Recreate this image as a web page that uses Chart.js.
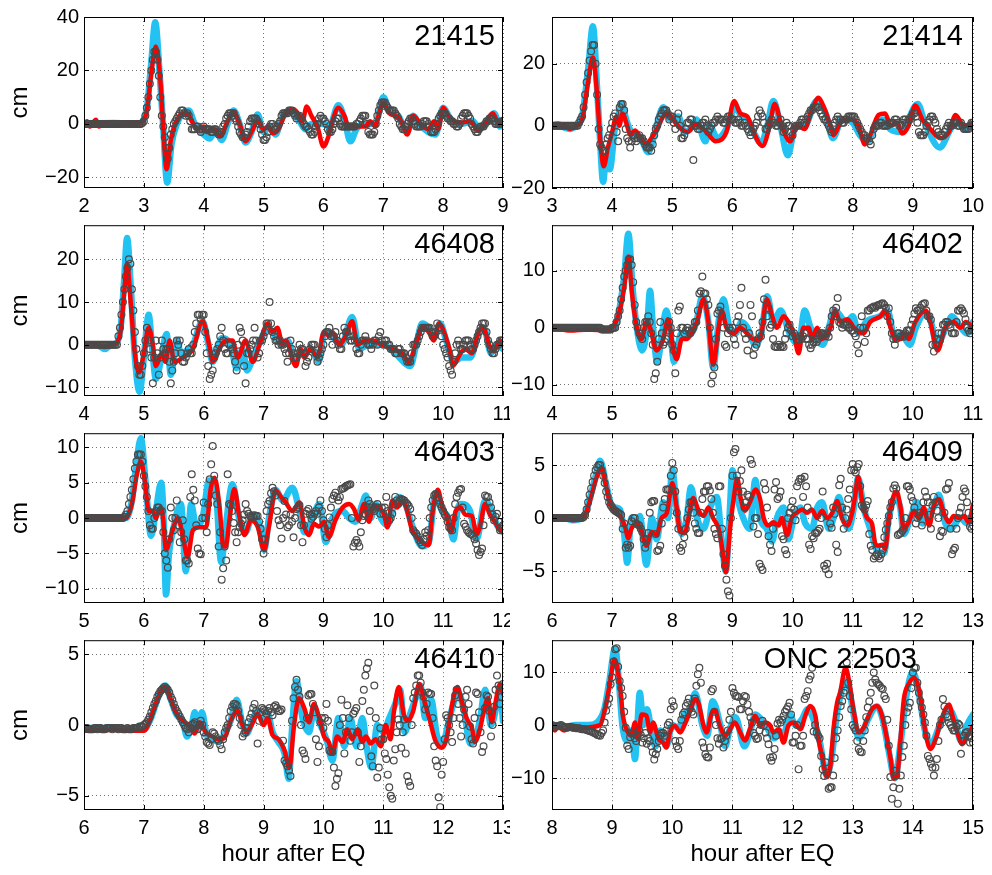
<!DOCTYPE html>
<html>
<head>
<meta charset="utf-8">
<script src="https://cdn.jsdelivr.net/npm/chart.js@4.4.0/dist/chart.umd.min.js"></script>
<style>
  body { margin: 0; background: #fff; width: 992px; height: 875px; position: relative; overflow: hidden; }
  canvas { position: absolute; }
</style>
</head>
<body>
<canvas id="c0"></canvas><canvas id="c1"></canvas>
<canvas id="c2"></canvas><canvas id="c3"></canvas>
<canvas id="c4"></canvas><canvas id="c5"></canvas>
<canvas id="c6"></canvas><canvas id="c7"></canvas>
<script>
// observed series: obsXXX sampled every obsStep hours from the panel's first hour,
// obsXXXHalf are the samples in between (first hour + obsStep/2 + k*obsStep)
const obsStep = 0.05;

// ---- 21415 ----
const red21415 = [[2,0],[2.05,1],[2.1,-1],[2.2,1.5],[2.25,-1],[2.35,0],[2.5,-0.5],[2.8,0],[2.95,0.5],[3.05,5],[3.12,18],[3.2,29],[3.27,18],[3.32,0],[3.38,-17],[3.45,-6],[3.52,0],[3.6,3],[3.72,4],[3.8,1],[3.9,-2],[4,-1],[4.05,-3],[4.15,-1.5],[4.28,-4.5],[4.4,1],[4.5,4.5],[4.6,0],[4.7,-6.5],[4.8,-3],[4.9,1],[5,-2],[5.08,-1],[5.15,-3.5],[5.25,-2],[5.35,3],[5.5,5.5],[5.6,3],[5.65,1],[5.72,6.5],[5.8,3],[5.9,-1],[6,-8.5],[6.08,-5],[6.15,1],[6.25,6],[6.35,3],[6.42,-1],[6.6,-1],[6.7,-1],[6.78,1],[6.87,-1],[6.92,3],[7,8],[7.1,4],[7.2,3],[7.3,1],[7.4,-4],[7.5,3],[7.62,0],[7.75,-2],[7.85,1],[7.92,-2],[8,6],[8.12,2],[8.3,0.5],[8.45,1],[8.58,-2.5],[8.7,0],[8.83,4],[8.93,0],[9,2]];
const cyan21415 = [[2,0],[2.5,0.3],[2.9,0],[3.05,6],[3.12,22],[3.19,38],[3.26,20],[3.32,0],[3.39,-22],[3.46,-8],[3.55,0],[3.65,4],[3.75,5],[3.85,0],[4,-4],[4.1,-5.5],[4.2,-2],[4.3,-6],[4.4,0],[4.5,5],[4.6,0],[4.7,-7],[4.8,-3],[4.9,3.5],[5,-3],[5.1,-1],[5.2,-4],[5.3,2],[5.45,5],[5.6,1],[5.7,-2],[5.8,0],[6,0],[6.1,-1],[6.25,7],[6.35,2],[6.45,-6.5],[6.55,-2],[6.65,0],[6.8,0],[6.9,2],[7,10],[7.1,5],[7.25,3],[7.4,-3],[7.5,3],[7.6,0],[7.75,-3],[7.87,-4],[8,6],[8.12,2],[8.3,0],[8.5,1],[8.6,-2],[8.7,0],[8.85,4],[8.95,-1],[9,0]];
const obs21415 = [
  0,0,0,0,0,0,0,0,0,0,
  0,0,0,0,0,0,0,0,0,0,
  1,6,15,24,27,18,3,-5,-13,-4,
  0,2,4,5,3,3,-2,-2,-1,-3,
  -1,-2,-2,-3,-2,-4,-3,0,3,4,
  4,1,-3,-5,-4,-1,2,2,1,-2,
  -6,-5,-1,0,-2,0,3,4,4,5,
  4,2,3,1,-1,-2,-4,-3,0,3,
  2,0,-3,-2,1,2,-1,-1,-1,-1,
  -1,0,1,3,3,-3,-4,-3,3,7,
  8,7,5,5,4,2,-1,-2,0,2,
  1,-1,-1,0,1,0,-3,-3,0,3,
  4,3,2,1,0,-1,2,4,4,2,
  -1,-3,-2,-1,0,1,2,1,0,0,
  1];
const obs21415Half = [
  0,0,0,0,0,0,0,0,0,0,
  0,0,0,0,0,0,0,0,0,0.3,
  3,10,20,27,24,10,-1,-9,-9,-2,
  1,3,5,4,4,1,-2,-1,-2,-2,
  -2,-2,-3,-2,-3,-4,-1,2,4,3,
  2,-1,-4,-5,-3,1,2,2,0,-4,
  -6,-3,0,-1,-1,1,4,4,5,5,
  3,3,2,0,-1,-3,-4,-1,2,2,
  1,-2,-3,0,2,0,-1,-1,-1,-1,
  -1,0,2,3,0,-4,-4,0,5,8,
  8,6,5,5,3,0,-2,-1,1,2,
  0,-1,-1,1,1,-1,-3,-2,2,4,
  4,2,1,0,-1,0,3,4,3,0,
  -2,-3,-1,-1,1,2,2,0,0,1];

// ---- 21414 ----
const red21414 = [[3,0],[3.1,-0.5],[3.2,0],[3.3,-1],[3.4,0],[3.5,2],[3.6,14],[3.68,22],[3.75,10],[3.8,-4],[3.86,-13],[3.93,-7],[4,-2],[4.07,3],[4.12,0],[4.17,4],[4.25,0],[4.3,-3],[4.38,-1.5],[4.45,-3],[4.57,-6],[4.65,-4],[4.75,-1],[4.85,3],[4.93,4],[5.05,1],[5.15,-1],[5.25,-2],[5.4,0.5],[5.57,-2],[5.72,-5],[5.9,-2],[6.03,8],[6.13,4],[6.25,3],[6.35,-2],[6.5,-6.5],[6.62,0],[6.7,7],[6.82,0],[6.96,-5],[7.07,0],[7.2,-1],[7.32,5],[7.43,9],[7.52,6],[7.63,0],[7.68,-3],[7.8,1],[7.96,2],[8.1,0],[8.2,-6],[8.29,-3],[8.43,3.5],[8.54,4],[8.63,0],[8.74,1],[8.82,-2.5],[8.93,0],[9.04,6.5],[9.16,2],[9.29,-1],[9.46,-4],[9.6,-2],[9.71,3.5],[9.85,0],[10,1]];
const cyan21414 = [[3,0],[3.1,0.5],[3.2,-0.5],[3.3,-1],[3.4,0],[3.5,3],[3.6,18],[3.68,32],[3.75,12],[3.8,-5],[3.85,-18],[3.9,-10],[3.96,-14],[4.05,0],[4.1,3],[4.15,7],[4.25,1],[4.35,-3],[4.47,-4],[4.6,-8.5],[4.7,-3],[4.85,6],[4.97,2],[5.1,3],[5.2,-2],[5.3,-1],[5.4,2],[5.55,-5],[5.62,0],[5.75,-4],[5.9,-1],[6.05,6],[6.15,3],[6.25,2],[6.35,-2],[6.48,-5.5],[6.58,0],[6.68,8],[6.8,0],[6.92,-9.5],[7.05,0],[7.2,0],[7.4,8],[7.55,4],[7.67,-4],[7.82,2],[8,1],[8.12,-3],[8.25,-5],[8.4,1],[8.5,2],[8.62,-1],[8.8,-2],[9.08,7],[9.2,1],[9.45,-7],[9.6,-2],[9.72,2],[9.85,-1],[10,0]];
const obs21414 = [
  0,0,0,0,0,0,0,0,0,1,
  3,10,17,24,26,10,-6,-8,-6,-3,
  1,4,-5,7,5,-4,-7,-3,-5,-3,
  -4,-6,-7,-8,-3,0,3,5,5,2,
  3,-1,4,-4,-3,1,2,-11,0,-1,
  1,2,-2,0,1,3,2,1,2,3,
  2,1,2,0,1,-1,-3,-1,1,5,
  3,-1,0,2,1,0,2,-2,1,0,
  -3,0,0,2,1,3,5,6,6,5,
  3,2,0,-2,1,3,2,1,2,3,
  3,2,0,-2,-3,-4,-6,-1,0,1,
  0,0,1,1,2,1,0,2,1,2,
  4,3,-2,-3,-2,1,3,2,-1,-3,
  -3,-1,1,0,1,0,1,-1,-1,0,
  1];
const obs21414Half = [
  0,0,0,0,0,0,0,0,0,2,
  6,14,21,26,20,-1,-7,-8,-4,-1,
  3,-2,6,7,-1,-5,-5,-4,-4,-4,
  -5,-7,-7,-6,-1,2,4,5,4,3,
  1,2,0,-4,-1,1,2,0,-1,0,
  1,0,-1,1,2,2,2,1,3,2,
  2,1,1,0,0,-2,-2,0,3,4,
  1,-1,1,1,0,1,0,-1,0,-2,
  -1,0,1,2,2,4,5,6,6,4,
  2,1,-1,0,2,2,1,2,3,3,
  3,1,-1,-3,-4,-5,-3,0,0,1,
  0,0,1,1,2,0,1,2,2,3,
  4,1,-3,-3,0,2,3,1,-2,-3,
  -2,0,0,1,1,0,0,-1,-1,1];

// ---- 46408 ----
const red46408 = [[4,0],[4.2,0],[4.35,-0.5],[4.45,0],[4.55,0.5],[4.62,4],[4.67,12],[4.72,19],[4.78,10],[4.85,-2],[4.92,-6.5],[5,-2],[5.08,4],[5.15,0],[5.2,-5],[5.3,-2],[5.36,-4],[5.43,1],[5.51,-4],[5.65,-3],[5.82,-1],[5.98,5.5],[6.09,0],[6.15,-4],[6.26,-1],[6.37,1],[6.48,1],[6.57,-3],[6.7,1],[6.82,-4],[6.93,0],[7.07,5],[7.15,3],[7.23,4],[7.32,0],[7.37,1],[7.54,-5],[7.62,-1],[7.68,-3],[7.79,-1],[7.9,-3],[8.01,3],[8.1,2],[8.15,3],[8.26,0],[8.37,2],[8.48,5.5],[8.57,0],[8.68,1],[8.82,1],[8.98,0],[9.15,-1],[9.32,-2],[9.43,-4],[9.54,0],[9.65,4],[9.76,3],[9.84,1],[9.93,5],[10.04,2],[10.12,-2],[10.16,-5],[10.29,-2],[10.37,-1],[10.48,-2],[10.59,3],[10.66,4.3],[10.78,-0.5],[10.85,-1.5],[10.95,1],[11,0]];
const cyan46408 = [[4,0],[4.2,0],[4.35,-1],[4.45,0],[4.55,0.5],[4.62,5],[4.67,15],[4.72,25],[4.78,14],[4.85,-3],[4.93,-11],[5,-3],[5.08,7],[5.14,-1],[5.2,-8],[5.28,-4],[5.38,2.5],[5.45,-7],[5.55,1],[5.62,-2],[5.75,-1],[5.82,0],[5.98,5.5],[6.08,0],[6.15,-4],[6.3,1.5],[6.45,0],[6.55,-5.5],[6.65,-1],[6.72,-6],[6.8,-4],[6.95,1],[7.07,4],[7.2,2],[7.3,0],[7.4,1],[7.52,-3],[7.65,-2],[7.8,-1],[7.92,-4],[8.02,3],[8.15,2],[8.3,0],[8.48,6.5],[8.6,-1],[8.75,0],[9,0],[9.2,-2],[9.45,-5],[9.55,0],[9.65,5],[9.76,4],[9.85,2],[9.95,5],[10.05,1],[10.18,-4],[10.3,-3],[10.45,-3],[10.6,3],[10.68,4],[10.8,-2],[10.9,0],[11,-1]];
const obs46408 = [
  0,0,0,0,0,0,0,0,0,0,
  0,0,4,10,16,20,13,3,-5,-7,
  -2,4,-1,-9,1,-7,1,-2,-1,-9,
  -4,1,1,-4,-3,-1,-2,3,7,6,
  7,-2,-8,-6,-2,0,4,-1,-2,0,
  -2,-6,4,1,-9,-2,0,4,-3,1,
  2,5,10,3,1,0,0,-1,-4,1,
  -2,-3,0,-1,-5,-3,0,0,-4,-2,
  0,3,4,0,3,0,-1,4,3,1,
  2,-1,-2,1,2,0,-1,1,0,3,
  0,1,0,-1,-2,-1,-2,-2,-4,-4,
  0,0,2,4,4,4,3,2,5,4,
  0,-2,-5,-7,-2,1,-1,0,1,0,
  -1,1,3,5,5,1,-1,-2,0,1,
  1];
const obs46408Half = [
  0,0,0,0,0,0,0,0,0,0,
  0,2,7,13,18,19,8,-1,-7,-5,
  1,1,-3,-3,-2,-3,-1,-1,-4,-6,
  -2,0,-2,-4,-2,-2,0,5,7,7,
  3,-5,-7,-3,-1,2,1,-2,0,-1,
  -4,0,3,-5,-2,-1,1,1,-2,1,
  3,5,5,2,1,1,0,-2,-2,-1,
  -3,-2,-1,-2,-4,-1,0,-2,-3,-1,
  2,3,2,2,1,-1,2,3,2,1,
  1,-2,0,1,1,0,0,1,2,1,
  1,0,-1,-1,-2,-1,-2,-3,-4,-2,
  0,1,3,4,4,4,2,3,4,2,
  -1,-3,-6,-4,0,0,-1,1,1,-1,
  0,2,4,5,3,0,-2,-1,0,1];

// ---- 46402 ----
const red46402 = [[4,0],[4.3,-0.5],[4.6,-0.3],[4.9,-0.5],[5,0],[5.1,2],[5.2,7],[5.27,12.5],[5.33,6],[5.41,0],[5.49,-2],[5.57,1],[5.63,0],[5.74,-4],[5.85,-2],[5.93,1.5],[6.02,-4],[6.07,-5.5],[6.16,-2],[6.24,-2],[6.32,-1],[6.41,1],[6.52,5],[6.6,1],[6.68,-6.5],[6.77,0],[6.82,3],[6.9,0],[7.02,-1],[7.13,0],[7.24,-1],[7.35,-2],[7.46,-2],[7.57,5],[7.66,2],[7.74,0],[7.85,2],[7.93,1],[8.02,-1],[8.1,-4.5],[8.18,0],[8.27,0],[8.32,-2],[8.41,0],[8.49,-2],[8.63,0],[8.71,3],[8.79,1],[8.91,1.5],[9.02,0],[9.18,-1],[9.29,1],[9.46,2],[9.54,3],[9.63,0],[9.71,-2],[9.79,-2],[9.88,-1],[9.93,-2],[10.04,1],[10.21,3],[10.29,1],[10.41,-4],[10.54,0],[10.68,1],[10.79,0],[10.88,1],[11,0]];
const cyan46402 = [[4,0],[4.3,0],[4.6,0],[4.95,-0.3],[5.05,0],[5.1,2],[5.2,9],[5.27,16.5],[5.34,7],[5.41,0],[5.5,-4],[5.58,0],[5.63,6.5],[5.68,0],[5.75,-6],[5.83,-1],[5.9,3],[5.96,0],[6.03,-6],[6.15,-1],[6.3,-1],[6.4,1],[6.5,5.5],[6.6,1],[6.68,-7],[6.77,1],[6.85,5],[6.95,0],[7.05,-1],[7.15,1],[7.25,0],[7.38,-3],[7.48,-1],[7.58,5.5],[7.68,1],[7.8,3],[7.95,-1],[8.1,-3],[8.2,3],[8.3,0],[8.35,-1],[8.5,-3],[8.6,0],[8.7,3],[8.9,1],[9,2],[9.1,-1],[9.22,1],[9.45,2],[9.58,3],[9.7,-2],[9.8,-1],[9.95,-3],[10.05,0],[10.2,2.5],[10.3,1],[10.4,-3],[10.55,0],[10.65,2],[10.8,0],[10.9,-1],[11,1]];
const obs46402 = [
  0,0,0,0,0,0,0,0,0,0,
  0,0,0,0,0,0,0,-0.3,-0.3,-0.3,
  0,0,2,5,9,11,12,8,1,-1,
  -2,1,2,-1,-9,-6,1,-3,-2,1,
  -3,-8,3,0,-1,0,-1,0,1,6,
  9,6,4,-9.8,-7,2.5,3.7,0,-3.4,0,
  0,-3,2,7,-1,-4,4,-4.8,-3,-1,
  1,8.4,3.4,0.5,-3.3,-3.4,-3.4,-3.4,-1,0.5,
  -1.5,-1.5,-2,-2,-1,-2,-3.6,-2.5,-2.5,-1.3,
  -1,-1.5,-1.6,2,2,5.2,0.8,0.5,0.5,0,
  -0.5,-1.5,-4.5,2,-2.5,3,3.4,3.7,3.8,4,
  4.3,3.5,3.4,-1,-3,-1,-1.5,-1.6,-0.5,-0.5,
  1.4,3.4,3,4,4.3,2,1.4,-4.2,-2,-2.2,
  0.5,1,0.5,-1,-1,3,3.4,2.5,0,-1,
  -0.4];
const obs46402Half = [
  0,0,0,0,0,0,0,0,0,0,
  0,0,0,0,0,0,-0.3,-0.3,-0.3,-0.3,
  0,1,3,7,10,12,11,4,0,-1.5,
  0,1,1,-3,-8,-2,-1,-2.5,-0.5,0,
  -4,-1,3.7,0,-0.5,-0.5,-0.5,1,3,6.4,
  6,5,0,-8.4,-2,3,2,-3,-1,-0.5,
  -2,1,4,0,-2,-1,2,-3.5,-2,-1.5,
  5,2,0,-2,-3.4,-3,-3.2,-2,0,-0.5,
  -1,-2.2,-1.5,-1.5,-2,-3,-3,-2,-2,-1,
  -1.2,-1,0,3,3.5,1,0,0.5,0,-0.5,
  -1,-3,0,0,-1,3,3.5,3.5,4,4.2,
  4,2,1,-2,-2,-1,-1.5,-1,-0.5,0.5,
  2.5,3,3.5,4.2,3,2,-3,-3,-1,-1,
  0.5,1,0,-1,1,3,3,1.5,-0.5,-0.5];

// ---- 46403 ----
const red46403 = [[5,0],[5.3,0],[5.5,0],[5.7,0],[5.8,2],[5.88,6],[5.95,8],[6.02,5],[6.08,1],[6.15,1],[6.2,0],[6.28,1.5],[6.32,0],[6.37,-4.5],[6.46,-2.2],[6.57,0],[6.66,-3],[6.73,-5.5],[6.82,-1.7],[6.93,-1.3],[7.04,-1.3],[7.12,4.3],[7.18,5.7],[7.26,2],[7.33,-4],[7.37,-4],[7.43,-0.3],[7.51,4.1],[7.59,0.5],[7.68,-2.4],[7.79,-0.3],[7.9,-1.2],[8.01,-4.5],[8.09,-1.2],[8.2,3.9],[8.29,3],[8.37,2.2],[8.48,1],[8.6,2.2],[8.68,-1.2],[8.76,-2.4],[8.84,-0.8],[8.93,-1.2],[9.01,-0.5],[9.09,-2.7],[9.2,-0.3],[9.32,1.5],[9.43,2],[9.51,1.3],[9.59,-0.3],[9.68,2],[9.76,-0.5],[9.84,1.8],[9.93,1.5],[10.01,0.6],[10.07,-1.3],[10.15,2.5],[10.23,1.5],[10.32,2.5],[10.4,1],[10.48,-1.7],[10.59,-2.9],[10.68,-3.6],[10.76,-3.8],[10.82,0.6],[10.91,4],[10.99,1.5],[11.04,0.8],[11.13,-2],[11.21,1],[11.29,1.5],[11.37,0.5],[11.48,0.3],[11.56,-2.3],[11.62,-1],[11.7,2],[11.79,0.3],[11.87,-0.6],[11.96,-1.8],[12,-1.5]];
const cyan46403 = [[5,0],[5.3,0],[5.5,0],[5.7,0],[5.8,2.5],[5.88,8],[5.95,11.3],[6.03,5],[6.12,-2.5],[6.2,1],[6.29,5],[6.33,0],[6.37,-10.8],[6.42,-5],[6.48,-2],[6.62,2],[6.7,-7.5],[6.79,2],[6.87,-1],[6.98,0],[7.09,5.3],[7.21,3],[7.29,-6.2],[7.37,-1],[7.48,4.8],[7.59,0],[7.7,-2],[7.82,0.5],[7.93,-1],[8.01,-4.5],[8.09,0],[8.2,4],[8.32,2.5],[8.48,4.3],[8.6,1],[8.68,-2],[8.82,0],[8.93,2],[9.04,-3.4],[9.15,0],[9.32,1],[9.43,0],[9.54,-0.5],[9.65,2],[9.71,3.2],[9.79,0],[9.87,2],[9.96,0],[10.07,-1],[10.18,2],[10.26,3],[10.37,2],[10.48,-1],[10.65,-4],[10.76,-3.5],[10.87,3.5],[10.98,1],[11.09,0],[11.17,-3],[11.25,1.5],[11.3,2],[11.45,1],[11.56,-3],[11.7,2.5],[11.81,1],[11.9,-1],[12,-2]];
const obs46403 = [
  0,0,0,0,0,0,0,0,0,0,
  0,0,0,0,0.5,2,4,7,9,9,
  6,3,-1,-1.5,1,1.5,1,-5,-7,1.5,
  -1.7,2.5,-3.4,-0.3,-6,-6.4,6.2,2.5,-4.3,-5.1,
  2.2,-2,5.5,10.2,3.2,-4,-8.7,-4,6.2,1.8,
  -0.7,-3.4,-1.3,-0.3,2,0.6,0.1,0.4,0.3,-1.5,
  -5,1,2.4,4.3,3.2,-0.3,-2.9,2.4,-1.3,0.5,
  -2.7,1.3,1.8,-3.4,0.6,1.3,-0.1,0.6,0.6,2.5,
  -0.3,-2.7,0.1,2.7,3.6,2.5,4.1,4.3,4.6,4.8,
  -4,-3.1,-4,-0.3,0.6,2.5,1.5,1,2,0.6,
  0.6,3,-0.3,0.6,3,2,2.7,2.5,2,1.3,
  -1.7,-2.2,-3.1,-3.8,-2,-1.7,1.5,3.2,3,2,
  1,0.2,-1.3,-1.7,2,3.6,4.1,-0.8,-1.7,-2.2,
  -2.5,-3.6,-5.2,-4.3,3.2,3,1.5,-0.3,0.6,-1.7,
  -1];
const obs46403Half = [
  0,0,0,0,0,0,0,0,0,0,
  0,0,0,0.2,1,3,5.5,8,9,8,
  4.5,1,-1.5,0,1.5,1,-2,-6,-3,0,
  0,-1,-2,-3,-6,3,4,-1,-5,0,
  0,2,7.6,6,2,-2,-7.1,-6,2,1,
  -2,-2,-0.8,0.5,1,0.3,0.2,0.3,-0.5,-3,
  -3,2,3.5,3.8,1,-1,0,0.5,-1,-0.5,
  0,1.5,-1,-1,1,0.5,0.2,1,1.5,1,
  -1.5,-1,1.5,3.2,3,3,4.2,4.5,4.7,0,
  -3.5,-3.5,-2,0.3,1.5,2,1.2,1.5,1.5,1.5,
  1.5,1,0,2,2.5,2.5,2.6,2.2,1.7,0,
  -2,-2.6,-3.4,-3,-2.5,0,2.5,3.4,2.5,1.5,
  0.5,-0.5,-1.5,0,3,4,1.5,-1.2,-2,-2.3,
  -3,-4.5,-4.8,-1,3,2.2,0.5,0.2,-0.5,-1.5];

// ---- 46409 ----
const red46409 = [[6,0],[6.2,0],[6.35,-0.2],[6.5,0],[6.55,0.3],[6.65,2],[6.75,4],[6.82,4.8],[6.9,3],[6.97,1.3],[7.05,0.6],[7.13,0.2],[7.21,-0.7],[7.27,-1.9],[7.32,-1],[7.41,-0.5],[7.49,-1.3],[7.57,-2.6],[7.66,-1.3],[7.74,-1.6],[7.82,0],[7.91,0.5],[8,3.3],[8.07,1.1],[8.13,-1.3],[8.21,-1.4],[8.27,0],[8.35,1.9],[8.43,0.8],[8.52,0.2],[8.6,1],[8.68,0],[8.77,-1],[8.82,-2.5],[8.89,-5.1],[8.96,-1],[9.02,1.8],[9.08,3.7],[9.14,1.8],[9.21,0.7],[9.29,1.5],[9.39,2.7],[9.46,1.8],[9.52,0],[9.6,-0.7],[9.68,-0.4],[9.77,-0.7],[9.82,0],[9.91,-1.6],[9.99,0.1],[10.07,0.5],[10.16,0.8],[10.24,0.5],[10.32,0.8],[10.41,0],[10.49,0.7],[10.57,0],[10.66,0.5],[10.74,1.6],[10.82,0],[10.91,-0.7],[10.99,0.5],[11.04,2.1],[11.09,3.9],[11.16,1.5],[11.24,0],[11.32,-0.5],[11.38,-2.5],[11.43,-2.6],[11.49,-2.5],[11.54,-2.9],[11.6,0],[11.68,2.1],[11.73,2.5],[11.79,1.2],[11.85,-1],[11.93,-0.4],[12.02,0.7],[12.1,0],[12.18,1],[12.27,-0.7],[12.35,1.2],[12.43,1.8],[12.52,0.4],[12.6,-0.4],[12.68,0.2],[12.77,0],[12.85,0.2],[12.93,-0.4],[13,1.3]];
const cyan46409 = [[6,0],[6.2,0],[6.35,-0.2],[6.5,0],[6.55,0.3],[6.65,2.3],[6.75,4.5],[6.8,5.4],[6.9,3.2],[6.97,1.5],[7.05,1],[7.13,0.8],[7.2,-1.5],[7.25,-4.2],[7.32,0],[7.41,-0.5],[7.46,0.2],[7.57,-4.4],[7.66,0],[7.74,-2],[7.85,1.5],[7.93,0],[8,4.6],[8.07,1],[8.16,-1.5],[8.24,0],[8.31,2.9],[8.41,0],[8.52,-1],[8.63,1],[8.74,2],[8.82,-2],[8.89,-5],[8.95,0],[9,4.5],[9.08,2],[9.18,0],[9.29,-1],[9.38,3.6],[9.46,0],[9.57,-1],[9.66,-2.2],[9.74,0],[9.85,1],[9.93,-2],[10.02,0],[10.13,1],[10.21,-0.5],[10.32,-1],[10.41,1],[10.49,1.5],[10.6,-1],[10.68,0],[10.77,2],[10.85,0],[10.93,-1],[11.02,1],[11.09,3.8],[11.18,1],[11.29,-1],[11.4,-3],[11.52,-3.3],[11.6,0],[11.71,2],[11.79,1],[11.85,-1.5],[11.96,0],[12.07,1.5],[12.16,-0.5],[12.24,0.5],[12.35,1],[12.43,2.2],[12.54,-0.5],[12.63,-1],[12.79,0],[12.9,-0.5],[13,0.5]];
const obs46409 = [
  0,0,0,0,0,0,0,0,0,0,
  0,0.3,1.5,2.8,4,4.8,5,4,2.5,1.5,
  1,0.7,0.5,0.3,-0.5,-2.5,-2.6,0,-0.5,-0.7,
  -1.3,-2.8,-1.4,1.5,1.6,-3.1,-2.6,1,2.7,2.7,
  5.2,2.5,-1,-3.1,-1.8,0,1.5,0.5,-1,-1.4,
  1.8,2.5,3,1.8,-1,-1.9,3,-3.4,-5.8,-7.3,
  4,6.5,2.5,4.5,1,2.2,5.5,-0.8,0,-4.3,
  -4.9,2.7,-1.7,-3.1,2.7,1.8,2.5,-2,-3.4,0.5,
  1.6,-0.2,3.4,3.7,3.9,1,-2.9,-1.9,-1.4,-1,
  2.5,-4.8,-5.3,-0.9,0.4,-3.2,3.7,-1,0.8,2.7,
  5.1,4.3,5.1,1.2,0.8,1.6,-2.6,-3.8,-3.4,-3.8,
  -3,-1.1,0.2,1.5,3.1,-1.6,-1.4,-1,3,2.7,
  1.6,-0.5,0.2,-0.7,2.5,1.5,-1,2,0.7,-1.7,
  -1.3,2.7,3.3,-3.4,-2.8,0,1,2.8,1.5,-0.8,
  -0.7];
const obs46409Half = [
  0,0,0,0,0,0,0,0,0,0,
  0.1,0.8,2.2,3.4,4.5,5,4.5,3.3,2,1.2,
  0.8,0.6,0.4,-1,-2.8,-2.8,-0.3,0,-0.6,-1,
  -2,-2,0.5,1.6,-1.5,-3,-0.5,1.8,2.7,4,
  4.5,0.5,-2.8,-2.5,-1,0.8,1.5,-0.5,-1.4,0.5,
  2.5,3,2.6,0.5,-1.5,3,-1,-4.5,-6.9,0,
  6.2,4,3.5,2.5,1.5,2,5.1,0,-1.5,-4.6,
  3.3,1,-2.5,-1,3.4,2,-1.7,-3,0,1,
  0.8,3,3.7,2,3,-2.5,-1.7,-1.4,-1.2,0,
  -4.5,-4.3,-0.5,1,-2.5,3.1,1,0,1.8,4.5,
  4.5,4.8,3,1,1.2,-1.5,-3,-3.6,-3.6,-3.4,
  -1.8,-0.5,1,2.8,2.8,-1.5,-1.2,0,3,2,
  1,0,0.5,1.5,2,0.3,1.2,1.5,0,-1.2,
  0.5,2.8,-1,-3,-1,0.5,2,2.5,0.5,-1];

// ---- 46410 ----
const red46410 = [[6,-0.4],[6.5,-0.35],[7,-0.4],[7.1,0.3],[7.2,1.5],[7.3,2.5],[7.36,2.7],[7.45,1.8],[7.55,0.8],[7.65,0.3],[7.75,0],[7.85,-0.6],[7.93,0.2],[8.05,-0.6],[8.15,-0.8],[8.25,-1],[8.35,-0.9],[8.45,0.3],[8.57,1],[8.65,0],[8.72,-0.5],[8.8,0],[8.9,0.8],[9,0],[9.07,0.5],[9.15,-0.7],[9.25,-1],[9.35,-1.8],[9.43,-3],[9.51,0],[9.59,1.9],[9.68,1.2],[9.76,0.2],[9.84,1.5],[9.93,0.5],[10.01,-0.8],[10.09,-1.2],[10.15,-2],[10.23,-0.8],[10.32,-1.2],[10.4,-0.3],[10.48,-1],[10.57,-0.3],[10.65,-1.2],[10.71,-0.8],[10.79,-1.3],[10.87,-1],[10.96,-1.5],[11.04,0],[11.12,-1],[11.18,1],[11.26,2.7],[11.34,0.8],[11.4,0.3],[11.5,1],[11.6,2.9],[11.7,1.5],[11.78,0.3],[11.87,-1.1],[11.98,-1.6],[12.06,-0.9],[12.17,1.9],[12.24,2.7],[12.31,1.7],[12.39,0.5],[12.48,-0.2],[12.53,-1.2],[12.62,-0.2],[12.67,0.8],[12.75,1.9],[12.81,0.2],[12.87,1.5],[12.95,2.9],[13,2.2]];
const cyan46410 = [[6,-0.2],[6.5,-0.2],[7,-0.3],[7.1,0.3],[7.2,1.5],[7.3,2.6],[7.36,2.8],[7.45,1.8],[7.55,0.7],[7.65,0.3],[7.72,-0.8],[7.8,0],[7.85,0.9],[7.9,-0.3],[7.97,0.9],[8.05,-0.7],[8.15,-1],[8.25,-1.2],[8.35,-0.6],[8.45,0.3],[8.55,1.8],[8.65,0],[8.72,-0.6],[8.8,0.2],[8.9,1],[9,0.3],[9.07,0.8],[9.15,-0.5],[9.25,-1.2],[9.35,-2],[9.42,-3.8],[9.48,0],[9.55,3.1],[9.65,0.5],[9.76,-0.5],[9.84,1],[9.95,0],[10.05,-1],[10.15,-2.5],[10.25,0.5],[10.35,-1.5],[10.45,0.5],[10.55,-1.5],[10.65,0.5],[10.72,-1.5],[10.8,-3],[10.9,0],[11,-0.5],[11.1,0.5],[11.2,1.5],[11.28,2.5],[11.36,-0.5],[11.45,0.8],[11.55,2],[11.62,2.8],[11.7,0.5],[11.8,1.8],[11.9,-0.8],[12,-1.2],[12.08,0],[12.17,1.5],[12.25,2.3],[12.35,1],[12.45,-1.3],[12.53,-1],[12.62,0.5],[12.7,2.5],[12.8,0],[12.9,1.5],[12.95,2.5],[13,0.3]];
const obs46410 = [
  -0.2,-0.2,-0.3,-0.3,-0.2,-0.2,-0.3,-0.3,-0.2,-0.2,
  -0.2,-0.2,-0.2,-0.3,-0.3,-0.3,-0.3,-0.2,-0.2,-0.1,
  0,0.2,0.6,1.2,1.7,2.2,2.5,2.7,2.5,2,
  1.5,1,0.6,0.2,-0.2,-0.5,0,0.2,-0.3,0.3,
  -0.5,-1.2,-1.4,-0.5,-0.8,-1.1,-1.7,-0.5,0,1,
  1.5,1.4,0.5,-0.8,-0.5,0.2,0.8,1.5,-1.3,0.9,
  1.1,0.8,1.2,0.7,1.4,1,1.1,-2.5,-2.9,-3.6,
  1.9,3.2,2,-1.8,-2.4,2.1,2.2,0.9,-2.6,0.2,
  -0.2,1.5,-1.8,-1.9,-4.3,-3.4,1.8,-2,1.4,-1.1,
  0.8,1.2,-2.6,1.7,3.5,4.4,-2.2,2.8,-3.7,-0.2,
  -1,-2.4,-4.4,-5.2,-1.7,0.4,-1.6,0.4,-3.6,-4.3,
  1.9,2.8,3.5,2.3,1.1,2.3,2.2,-1.5,-2.9,-5.8,
  -2.6,0.7,0,-1.2,2.1,1.5,-0.8,1.1,2.5,-0.1,
  -1.3,2.3,0.9,-1.9,1.2,2,-0.8,1.3,3.5,1.5,
  2.9];
const obs46410Half = [
  -0.2,-0.3,-0.3,-0.2,-0.3,-0.2,-0.3,-0.2,-0.2,-0.3,
  -0.2,-0.3,-0.2,-0.3,-0.2,-0.3,-0.2,-0.2,-0.1,-0.1,
  0.1,0.4,0.9,1.5,2,2.4,2.6,2.6,2.3,1.8,
  1.2,0.8,0.4,0,-0.3,-0.2,0.1,0,0,0,
  -0.8,-1.3,-1,-0.6,-1,-1.4,-1,-0.2,0.5,1.3,
  1.5,1,0,-0.6,-0.2,0.5,1.2,1,0.3,1.2,
  1,1,0.9,1.3,1.2,1,-1.1,-2.7,-3.2,0.3,
  2.7,2.5,0,-2,0.5,2.2,1.5,-1,-1.5,0.5,
  0.5,0.3,-1.9,-3,-3.8,0,0.5,-0.5,0.5,-0.5,
  1,-0.5,-1.5,2.5,4,1,-2.9,0.5,-3,-1,
  -2,-3.5,-5,-2.5,-0.5,0,-0.5,-2,-4,0,
  2.3,3.5,3,2,1.5,2.2,0.5,-2.5,-5.1,-3.5,
  -1,0.5,-0.5,0.5,2.5,0.5,0,2,1.5,-1,
  0.5,2.2,-0.5,-1.5,2.1,1,0,2.5,2.8,2];

// ---- ONC 22503 ----
const red22503 = [[8,-0.5],[8.05,-1],[8.1,-0.3],[8.2,-1],[8.3,-0.5],[8.5,-0.5],[8.8,0],[8.87,2.5],[8.95,7],[9.04,12.4],[9.13,7.4],[9.18,1.7],[9.24,-0.8],[9.32,-2],[9.38,0.5],[9.43,-2.6],[9.49,2],[9.57,1.8],[9.63,-1.4],[9.68,0.5],[9.77,-2.6],[9.85,-3.3],[9.9,-4.2],[9.96,-1.4],[10.04,-0.1],[10.13,-1.4],[10.21,0.2],[10.29,2.4],[10.38,4.9],[10.43,4.3],[10.52,-0.1],[10.57,-1.4],[10.66,2.4],[10.71,2.7],[10.79,-0.1],[10.88,-2],[10.96,-0.8],[11.04,0.5],[11.13,-1.4],[11.21,-2.9],[11.29,-0.8],[11.38,1.7],[11.46,-0.1],[11.54,0.5],[11.63,-0.1],[11.68,-1.4],[11.77,-0.8],[11.85,-3.3],[11.93,-0.1],[12.02,0.5],[12.13,-0.8],[12.21,1.7],[12.29,3.6],[12.38,1.7],[12.43,-2.6],[12.49,-5.8],[12.57,-9.8],[12.63,-7.6],[12.68,-0.8],[12.74,4.2],[12.79,6.1],[12.88,10.8],[12.93,8.9],[13.02,2.4],[13.1,-1.4],[13.18,-0.5],[13.24,1.1],[13.32,3],[13.41,3.6],[13.49,1.7],[13.57,-2.6],[13.63,-6.4],[13.68,-10.1],[13.74,-9.5],[13.79,-3.3],[13.85,4.9],[13.93,7.7],[14.02,8.9],[14.1,6.8],[14.16,2.4],[14.21,-1.4],[14.29,-4.5],[14.38,-2.6],[14.46,0.5],[14.54,3],[14.6,3.9],[14.66,1.7],[14.74,-1.4],[14.82,-3.6],[14.91,-2],[15,-0.1]];
const cyan22503 = [[8,-0.3],[8.1,0],[8.2,-0.5],[8.4,0],[8.6,0],[8.75,0.5],[8.87,3],[8.95,8],[9.05,14.5],[9.12,7],[9.17,0],[9.25,-3],[9.32,-1],[9.38,-6.4],[9.42,0],[9.46,6.1],[9.52,0],[9.58,3],[9.65,-1],[9.72,-4],[9.8,-1],[9.9,-4],[10,0],[10.1,-0.5],[10.2,2],[10.3,3],[10.38,6],[10.5,0],[10.58,-2],[10.67,4.5],[10.8,0],[10.88,-4],[10.95,-1],[11.05,1.5],[11.2,-4],[11.3,-1],[11.38,2],[11.55,0],[11.7,-2.5],[11.77,-1],[11.85,-2],[11.95,2],[12.05,0],[12.15,1],[12.25,3],[12.35,1],[12.45,-3],[12.57,-9.5],[12.65,-6],[12.75,3],[12.9,8.5],[13,3],[13.1,-2.5],[13.25,1],[13.4,3.5],[13.5,1],[13.6,-5],[13.7,-10],[13.8,-3],[13.9,6],[14,10],[14.1,6],[14.2,-1],[14.3,-3.5],[14.45,0],[14.6,3],[14.7,1],[14.8,-3],[14.9,0],[15,2]];
const obs22503 = [
  0,-0.3,-0.2,0,-0.3,-0.5,-0.3,-0.5,-0.6,-0.6,
  -0.8,-0.8,-1,-1.2,-1.5,-1.8,-2,-1,2.7,5,
  9,14.3,11,7,2.5,-3.9,-2.3,-1.5,-3,-1,
  -3.3,-1.5,-2.5,-4,-6.5,-4.5,-2,-1.5,-1,0.5,
  4.5,-3,-4.5,1,2.4,4.2,3.2,2,7.4,10.8,
  -3.3,-5.5,-6.1,6.4,2.5,-2.5,-2.6,-4.2,-2,1,
  7,5.5,5.3,3,5.5,3.9,1.5,-1.5,-2.6,-1,
  0.8,-1.4,-3.6,-6.7,-4.5,0.3,0.5,1.7,3,4.2,
  -3.3,-2,-8.3,-3.9,4.9,6.4,9.3,-1.2,-1.4,-2.5,
  -8.3,-7,-12,-11.7,-6.2,-1,3.6,6.1,11.8,5.5,
  0,-1,-4.5,-5.1,-1,3.3,6.1,9.9,8,7.4,
  6.8,4.9,-3.9,-13.9,-8.6,-14.8,-9.5,-3.9,2.4,4.2,
  9.9,10.8,6.1,3.3,0.5,-5.8,-7.3,-9.5,-6.4,0,
  4.9,2,0.5,-0.5,-1,0.3,-5.4,-2,-1.3,-3.3,
  -3.3];
const obs22503Half = [
  -0.2,-0.2,-0.1,-0.2,-0.4,-0.4,-0.4,-0.5,-0.6,-0.7,
  -0.8,-0.9,-1.1,-1.3,-1.6,-1.9,-1.5,0.5,4,7.7,
  12,14.5,8.3,5.5,-0.5,-4.5,-1.5,-2.5,-2,-1.8,
  -2.5,-3.5,-3,-5.1,-5.5,-3,-1.5,-2,0,3,
  3.6,-4,-3,2,3.6,5,2.5,5,9.6,8,
  -4.2,-6,-4.2,6.8,0,-3.5,-2.5,-3,-1,2.5,
  6.1,5.5,3,4.5,5.3,2.5,0.5,-2,-2.5,0,
  0,-2.5,-6.1,-6,-2,1,1,2.5,3.5,2,
  -3.3,0,-3.9,-2,5.5,8.6,10.8,0,-2,-5.8,
  -9.6,-9,-11.7,-9.5,-2.5,1.5,4.5,6.5,8,3,
  -0.5,-3,-5,-3,1.5,4.5,8,8.6,7.7,7,
  5.5,1,-9.8,-11.7,-9.5,-12,-6,0,3.3,7,
  10.8,8,4.5,2,-2,-6.4,-8,-8,-3,1,
  3.5,1.5,0,-1,-0.3,0,-3,-1.5,-2,-2.5];

// axis ticks
const ticks21415 = [-20, 0, 20, 40];
const ticks21414 = [-20, 0, 20];
const ticks46408 = [-10, 0, 10, 20];
const ticks46402 = [-10, 0, 10];
const ticks46403 = [-10, -5, 0, 5, 10];
const ticks46409 = [-5, 0, 5];
const ticks46410 = [-5, 0, 5];
const ticks22503 = [-10, 0, 10];

const panels = [
  {label: '21415', x0: 2, y: [-24, 40], yt: ticks21415, red: red21415, cyan: cyan21415, obs: obs21415, half: obs21415Half},
  {label: '21414', x0: 3, y: [-20, 35], yt: ticks21414, red: red21414, cyan: cyan21414, obs: obs21414, half: obs21414Half},
  {label: '46408', x0: 4, y: [-12, 28], yt: ticks46408, red: red46408, cyan: cyan46408, obs: obs46408, half: obs46408Half},
  {label: '46402', x0: 4, y: [-12, 18], yt: ticks46402, red: red46402, cyan: cyan46402, obs: obs46402, half: obs46402Half},
  {label: '46403', x0: 5, y: [-12, 12], yt: ticks46403, red: red46403, cyan: cyan46403, obs: obs46403, half: obs46403Half},
  {label: '46409', x0: 6, y: [-8, 8], yt: ticks46409, red: red46409, cyan: cyan46409, obs: obs46409, half: obs46409Half},
  {label: '46410', x0: 6, y: [-6, 6], yt: ticks46410, red: red46410, cyan: cyan46410, obs: obs46410, half: obs46410Half},
  {label: 'ONC 22503', x0: 8, y: [-16, 16], yt: ticks22503, red: red22503, cyan: cyan22503, obs: obs22503, half: obs22503Half, labelDx: 56}
];

// page layout of the 2x4 grid (canvas boxes, axis sizes)
const cols = [
  {left: 0, width: 510, yw: 84, pr: 7, labelDx: 8, ypad: 5},
  {left: 510, width: 482, yw: 42, pr: 19, labelDx: 10, ypad: 7}
];
const rows = [
  {top: 0, h: 220, pt: 17, xh: 32},
  {top: 220, h: 208, pt: 5, xh: 32},
  {top: 428, h: 207, pt: 5, xh: 32},
  {top: 635, h: 240, pt: 4, xh: 65}
];

const FONT = '"Liberation Sans", Arial, Helvetica, sans-serif';

const boxPlugin = {
  id: 'box',
  afterDraw(chart, args, opts) {
    const {ctx, chartArea: a} = chart;
    const xs = chart.scales.x, ys = chart.scales.y;
    ctx.save();
    ctx.strokeStyle = '#000';
    ctx.lineWidth = 1;
    ctx.strokeRect(a.left + 0.5, a.top + 0.5, a.right - a.left - 1, a.bottom - a.top - 1);
    ctx.beginPath();
    xs.ticks.forEach(t => {
      const px = Math.round(xs.getPixelForValue(t.value)) + 0.5;
      ctx.moveTo(px, a.bottom); ctx.lineTo(px, a.bottom - 5);
      ctx.moveTo(px, a.top); ctx.lineTo(px, a.top + 5);
    });
    ys.ticks.forEach(t => {
      const py = Math.round(ys.getPixelForValue(t.value)) + 0.5;
      ctx.moveTo(a.left, py); ctx.lineTo(a.left + 5, py);
      ctx.moveTo(a.right, py); ctx.lineTo(a.right - 5, py);
    });
    ctx.stroke();
    ctx.fillStyle = '#000';
    ctx.font = '29px ' + FONT;
    ctx.textAlign = 'right';
    ctx.textBaseline = 'alphabetic';
    ctx.fillText(opts.label, a.right - opts.dx, a.top + 28);
    ctx.restore();
  }
};

function minus(v) {
  return v < 0 ? '\u2212' + Math.abs(v) : String(v);
}

panels.forEach((p, i) => {
  const col = cols[i % 2], row = rows[Math.floor(i / 2)];
  const canvas = document.getElementById('c' + i);
  canvas.width = col.width;
  canvas.height = row.h;
  canvas.style.left = col.left + 'px';
  canvas.style.top = row.top + 'px';

  const xTicks = [];
  for (let h = p.x0; h <= p.x0 + 7; h++) xTicks.push(h);
  const obsPts = [];
  p.obs.forEach((v, k) => {
    obsPts.push({x: p.x0 + k * obsStep, y: v});
    if (k < p.half.length) obsPts.push({x: p.x0 + (k + 0.5) * obsStep, y: p.half[k]});
  });
  const bottom = row === rows[3];

  new Chart(canvas, {
    type: 'line',
    data: {
      datasets: [
        {
          data: obsPts, showLine: false,
          pointRadius: 3.4, pointBorderWidth: 1.2,
          pointBorderColor: '#4a4a4a', pointBackgroundColor: 'rgba(0,0,0,0)'
        },
        {
          data: p.red.map(d => ({x: d[0], y: d[1]})),
          borderColor: '#ff0000', borderWidth: 4.5, pointRadius: 0,
          cubicInterpolationMode: 'monotone', borderJoinStyle: 'round', borderCapStyle: 'round'
        },
        {
          data: p.cyan.map(d => ({x: d[0], y: d[1]})),
          borderColor: '#22c2f2', borderWidth: 6.5, pointRadius: 0,
          cubicInterpolationMode: 'monotone', borderJoinStyle: 'round', borderCapStyle: 'round'
        }
      ]
    },
    options: {
      responsive: false,
      animation: false,
      devicePixelRatio: 1,
      events: [],
      layout: {padding: {left: 0, right: col.pr, top: row.pt, bottom: 0}},
      plugins: {
        legend: {display: false},
        tooltip: {enabled: false},
        box: {label: p.label, dx: p.labelDx || col.labelDx}
      },
      scales: {
        x: {
          type: 'linear', min: p.x0, max: p.x0 + 7,
          afterBuildTicks: s => { s.ticks = xTicks.map(v => ({value: v})); },
          afterFit: s => { s.height = row.xh; s.paddingLeft = 0; s.paddingRight = 0; },
          grid: {color: 'rgba(0,0,0,0.55)', lineWidth: 1, drawTicks: false},
          border: {display: false, dash: [1, 3]},
          ticks: {color: '#000', font: {family: FONT, size: 20}, padding: 6, maxRotation: 0, autoSkip: false},
          title: {display: bottom, text: 'hour after EQ', color: '#000', font: {family: FONT, size: 24}, padding: {top: 0, bottom: 6}}
        },
        y: {
          type: 'linear', min: p.y[0], max: p.y[1],
          afterBuildTicks: s => { s.ticks = p.yt.map(v => ({value: v})); },
          afterFit: s => { s.width = col.yw; s.paddingTop = 0; s.paddingBottom = 0; },
          grid: {color: 'rgba(0,0,0,0.55)', lineWidth: 1, drawTicks: false},
          border: {display: false, dash: [1, 3]},
          ticks: {color: '#000', font: {family: FONT, size: 20}, padding: col.ypad, callback: minus},
          title: {display: i % 2 === 0, text: 'cm', color: '#000', font: {family: FONT, size: 24}, padding: {top: 6, bottom: 0}}
        }
      }
    },
    plugins: [boxPlugin]
  });
});
</script>
</body>
</html>
